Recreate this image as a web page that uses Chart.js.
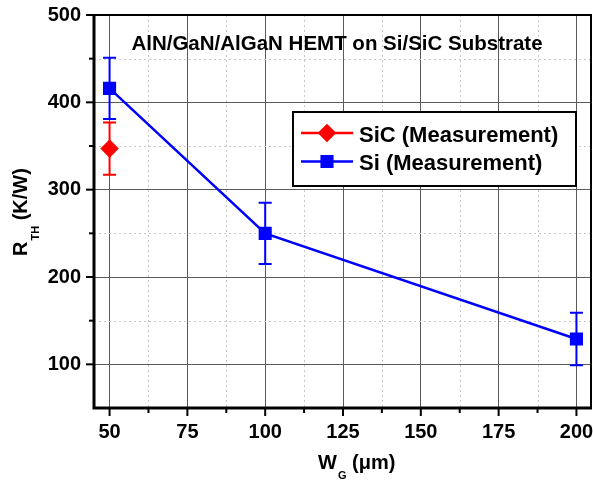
<!DOCTYPE html>
<html>
<head>
<meta charset="utf-8">
<script src="https://cdn.jsdelivr.net/npm/chart.js@4.4.0/dist/chart.umd.min.js"></script>
<style>
  html, body { margin: 0; padding: 0; background: #fff; }
</style>
</head>
<body>
<canvas id="chart" width="593" height="484"></canvas>
<script>
// values
const siWidths = [50, 100, 200];
const siValues = [416, 250, 129];
const siErrors = [35, 35, 30];
const sicWidths = [50];
const sicValues = [347];
const sicErrors = [30];

const xTicks = [50, 75, 100, 125, 150, 175, 200];
const xMinorTicks = [62.5, 87.5, 112.5, 137.5, 162.5, 187.5];
const yTicks = [100, 200, 300, 400, 500];
const yMinorTicks = [150, 250, 350, 450];

const FONT = '"Liberation Sans", Arial, sans-serif';

// error bars, minor grid, tick marks and the frame
const framePlugin = {
  id: 'frame',
  beforeDatasetsDraw(chart) {
    const {ctx, chartArea: a, scales: {x, y}} = chart;
    ctx.save();
    // minor dashed grid
    ctx.strokeStyle = '#c8c8c8';
    ctx.lineWidth = 1;
    ctx.setLineDash([2, 3]);
    xMinorTicks.forEach(v => {
      const px = Math.round(x.getPixelForValue(v)) + 0.5;
      ctx.beginPath(); ctx.moveTo(px, a.top); ctx.lineTo(px, a.bottom); ctx.stroke();
    });
    yMinorTicks.forEach(v => {
      const py = Math.round(y.getPixelForValue(v)) + 0.5;
      ctx.beginPath(); ctx.moveTo(a.left, py); ctx.lineTo(a.right, py); ctx.stroke();
    });
    ctx.setLineDash([]);

    // frame
    ctx.strokeStyle = '#000';
    ctx.lineWidth = 2;
    ctx.beginPath();
    ctx.moveTo(a.left, a.top); ctx.lineTo(a.right - 1, a.top); ctx.lineTo(a.right - 1, a.bottom);
    ctx.stroke();
    ctx.lineWidth = 3;
    ctx.beginPath();
    ctx.moveTo(a.left, a.top - 1); ctx.lineTo(a.left, a.bottom); ctx.lineTo(a.right, a.bottom);
    ctx.stroke();

    // tick marks (outward)
    ctx.lineWidth = 2;
    const tick = (list, len) => {
      list.forEach(v => {
        const px = x.getPixelForValue(v);
        ctx.beginPath(); ctx.moveTo(px, a.bottom); ctx.lineTo(px, a.bottom + len); ctx.stroke();
      });
    };
    const ytick = (list, len) => {
      list.forEach(v => {
        const py = y.getPixelForValue(v);
        ctx.beginPath(); ctx.moveTo(a.left, py); ctx.lineTo(a.left - len, py); ctx.stroke();
      });
    };
    tick(xTicks, 8); tick(xMinorTicks, 5);
    ytick(yTicks, 8); ytick(yMinorTicks, 5);

    // error bars
    chart.data.datasets.forEach(ds => {
      ctx.strokeStyle = ds.borderColor;
      ctx.lineWidth = 2;
      ds.data.forEach((p, i) => {
        const e = ds.errorBars[i];
        const px = x.getPixelForValue(p.x);
        const top = y.getPixelForValue(p.y + e);
        const bot = y.getPixelForValue(p.y - e);
        ctx.beginPath();
        ctx.moveTo(px, top); ctx.lineTo(px, bot);
        ctx.moveTo(px - 6.5, top); ctx.lineTo(px + 6.5, top);
        ctx.moveTo(px - 6.5, bot); ctx.lineTo(px + 6.5, bot);
        ctx.stroke();
      });
    });
    ctx.restore();
  },
  afterDraw(chart) {
    const {ctx} = chart;
    ctx.save();
    ctx.fillStyle = '#000';

    // title inside the plot
    ctx.font = 'bold 20.5px ' + FONT;
    ctx.textAlign = 'center';
    ctx.textBaseline = 'alphabetic';
    ctx.fillText('AlN/GaN/AlGaN HEMT on Si/SiC Substrate', 337, 50);

    // x axis title: W_G (μm)
    ctx.textAlign = 'left';
    let cx = 318;
    ctx.font = 'bold 20px ' + FONT;
    ctx.fillText('W', cx, 469);
    cx += ctx.measureText('W').width;
    ctx.font = 'bold 11px ' + FONT;
    ctx.fillText('G', cx + 1, 479);
    cx += ctx.measureText('G').width + 1;
    ctx.font = 'bold 20px ' + FONT;
    ctx.fillText(' (\u03bcm)', cx, 469);

    // y axis title: R_TH (K/W)
    ctx.translate(27, 256);
    ctx.rotate(-Math.PI / 2);
    let cy = 0;
    ctx.font = 'bold 20px ' + FONT;
    ctx.fillText('R', cy, 0);
    cy += ctx.measureText('R').width;
    ctx.font = 'bold 11px ' + FONT;
    ctx.fillText('TH', cy + 1, 12);
    cy += ctx.measureText('TH').width + 1;
    ctx.font = 'bold 20px ' + FONT;
    ctx.fillText(' (K/W)', cy, 0);
    ctx.restore();

    // legend box
    ctx.save();
    const bx = 293, by = 112, bw = 283, bh = 74;
    ctx.strokeStyle = '#000';
    ctx.lineWidth = 2;
    ctx.fillStyle = '#fff';
    ctx.fillRect(bx, by, bw, bh);
    ctx.strokeRect(bx, by, bw, bh);
    chart.data.datasets.forEach((ds, i) => {
      const rowY = by + 21 + i * 28.5;
      ctx.strokeStyle = ds.borderColor;
      ctx.lineWidth = 2.5;
      ctx.beginPath(); ctx.moveTo(bx + 8, rowY); ctx.lineTo(bx + 60, rowY); ctx.stroke();
      Chart.helpers.drawPoint(ctx, {
        pointStyle: ds.pointStyle, radius: ds.pointRadius, borderWidth: 1
      }, bx + 34, rowY);
      ctx.fillStyle = ds.borderColor;
      ctx.fill();
      ctx.fillStyle = '#000';
      ctx.font = 'bold 22px ' + FONT;
      ctx.textAlign = 'left';
      ctx.textBaseline = 'alphabetic';
      ctx.fillText(ds.label, bx + 66, rowY + 8.5);
    });
    ctx.restore();
  }
};

const tickFont = {family: FONT, size: 20, weight: 'bold'};

new Chart(document.getElementById('chart'), {
  type: 'scatter',
  data: {
    datasets: [
      {
        label: 'SiC (Measurement)',
        data: sicWidths.map((w, i) => ({x: w, y: sicValues[i]})),
        errorBars: sicErrors,
        borderColor: '#ff0000',
        backgroundColor: '#ff0000',
        pointStyle: 'rectRot',
        pointRadius: 7.5,
        showLine: true,
        borderWidth: 2.5
      },
      {
        label: 'Si (Measurement)',
        data: siWidths.map((w, i) => ({x: w, y: siValues[i]})),
        errorBars: siErrors,
        borderColor: '#0000ff',
        backgroundColor: '#0000ff',
        pointStyle: 'rect',
        pointRadius: 7.5,
        showLine: true,
        borderWidth: 2.5
      }
    ]
  },
  options: {
    responsive: false,
    animation: false,
    devicePixelRatio: 1,
    layout: {autoPadding: false, padding: {top: 15, right: 1, left: 0, bottom: 0}},
    plugins: {
      legend: {display: false},
      tooltip: {enabled: false}
    },
    scales: {
      x: {
        type: 'linear',
        min: 45,
        max: 205,
        afterBuildTicks: s => { s.ticks = xTicks.map(v => ({value: v})); },
        afterFit: s => { s.height = 76; s.paddingLeft = 0; s.paddingRight = 0; },
        grid: {color: '#5a5a5a', lineWidth: 1, drawTicks: false},
        border: {display: false},
        ticks: {padding: 12, font: tickFont, color: '#000', maxRotation: 0, autoSkip: false}
      },
      y: {
        type: 'linear',
        min: 50,
        max: 500,
        afterBuildTicks: s => { s.ticks = yTicks.map(v => ({value: v})); },
        afterFit: s => { s.width = 94; s.paddingTop = 0; s.paddingBottom = 0; },
        grid: {color: '#5a5a5a', lineWidth: 1, drawTicks: false},
        border: {display: false},
        ticks: {padding: 13, font: tickFont, color: '#000', autoSkip: false}
      }
    }
  },
  plugins: [framePlugin]
});
</script>
</body>
</html>
